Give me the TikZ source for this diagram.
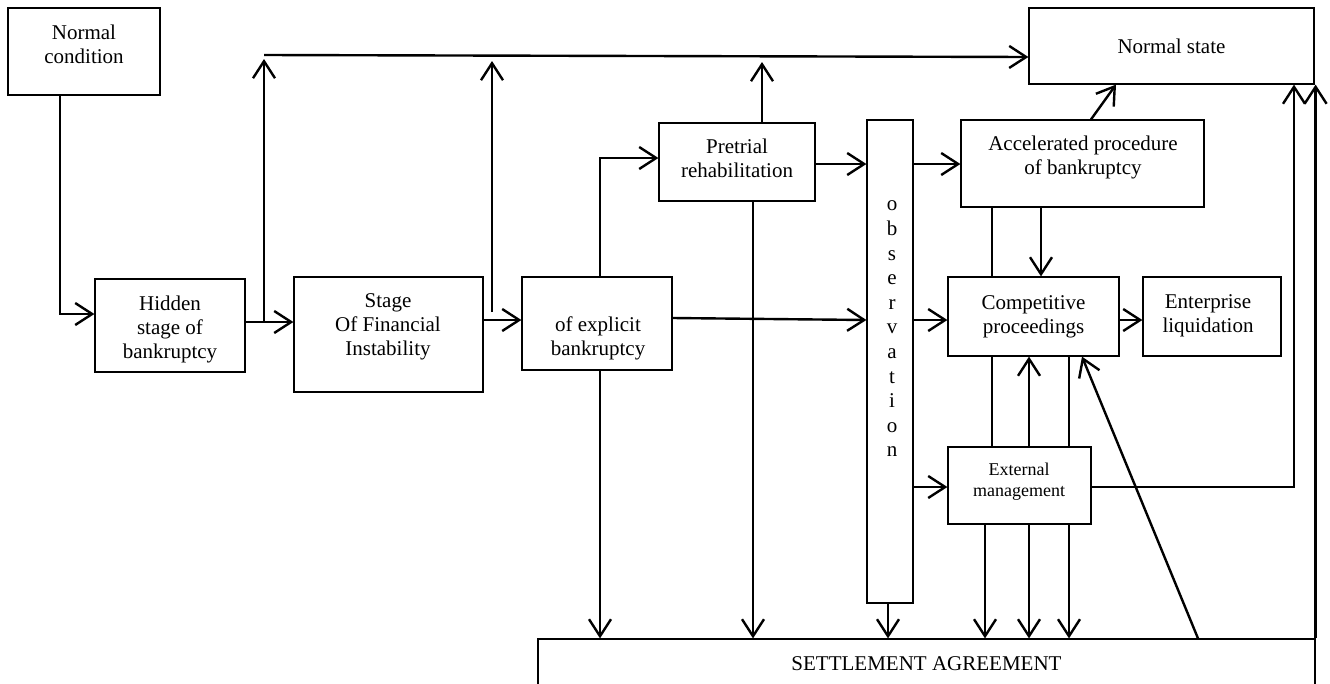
\documentclass[tikz,border=0pt]{standalone}
\usepackage{fontspec}
\setmainfont{Liberation Serif}
\usetikzlibrary{arrows.meta}
\begin{document}
\begin{tikzpicture}[x=1pt,y=-1pt,
  box/.style={draw, line width=1.2pt, inner sep=0pt, anchor=center, align=center, font=\fontsize{21}{24}\selectfont},
  txt/.style={align=center, inner sep=0pt, anchor=center, font=\fontsize{21}{24}\selectfont},
  con/.style={line width=2.4pt},
  arr/.style={line width=2.4pt, -{Straight Barb[length=17pt,width=22pt]}}]
\useasboundingbox (0,0) rectangle (1330,683);

% boxes
\node[box, minimum width=152pt, minimum height=87pt] (nc) at (84,51.5) {};
\node[txt] (nct) at (84,44) {Normal\\condition};
\node[box, minimum width=150pt, minimum height=93pt] (hid) at (170,325.5) {};
\node[txt] (hidt) at (170,329) {Hidden\\stage of\\bankruptcy};
\node[box, minimum width=189pt, minimum height=115pt] (sfi) at (388.5,334.5) {};
\node[txt] (sfit) at (388,327) {Stage\\Of Financial\\Instability};
\node[box, minimum width=150pt, minimum height=93pt] (exb) at (597,323.5) {};
\node[txt] (exbt) at (598,338) {of explicit\\bankruptcy};
\node[box, minimum width=156pt, minimum height=78pt] (pr) at (737,162) {};
\node[txt] (prt) at (737,158) {Pretrial\\rehabilitation};
\node[box, minimum width=46pt, minimum height=483pt] (ob) at (890,361.5) {};
\node[txt, font=\fontsize{21}{24.6}\selectfont] (obt) at (892,329) {o\\b\\s\\e\\r\\v\\a\\t\\i\\o\\n};
\node[box, minimum width=285pt, minimum height=76pt] (ns) at (1171.5,46) {Normal state};
\node[box, minimum width=243pt, minimum height=87pt] (ap) at (1082.5,163.5) {};
\node[txt] (apt) at (1083,157) {Accelerated procedure\\of bankruptcy};
\node[box, minimum width=171pt, minimum height=79pt] (cp) at (1033.5,316.5) {Competitive\\proceedings};
\node[box, minimum width=138pt, minimum height=79pt] (el) at (1212,316.5) {};
\node[txt] (elt) at (1208,316) {Enterprise\\liquidation};
\node[box, minimum width=143pt, minimum height=77pt] (em) at (1019.5,485.5) {};
\node[txt, font=\fontsize{18}{21}\selectfont] (emt) at (1019,482) {External\\management};
\node[box, minimum width=777pt, minimum height=49pt] (sa) at (926.5,663.5) {SETTLEMENT AGREEMENT};

% junction coordinates
\coordinate (tl) at (264,55);
\coordinate (j1) at (264,322);
\coordinate (j1t) at (264,59);
\coordinate (j2) at (492,312);
\coordinate (j2t) at (492,61);
\coordinate (j3t) at (762,62);
\coordinate (j4) at (600,158);

% connectors
\draw[arr] (nc.south -| 60,0) |- (hid.west |- 0,314);
\draw[arr] (hid.east |- 0,322) -- (sfi.west |- 0,322);
\draw[arr] (j1) -- (j1t);
\draw[arr] (tl) -- (ns.west |- 0,57);
\draw[arr] (sfi.east |- 0,320) -- (exb.west |- 0,320);
\draw[arr] (j2) -- (j2t);
\draw[arr] (pr.north -| 762,0) -- (j3t);
\draw[arr] (exb.north -| j4) -- (j4) -- (pr.west |- j4);
\draw[arr] (pr.east |- 0,164) -- (ob.west |- 0,164);
\draw[arr] (exb.east |- 0,318) -- (ob.west |- 0,320);
\draw[arr] (pr.south -| 753,0) -- (sa.north -| 753,0);
\draw[arr] (exb.south -| 600,0) -- (sa.north -| 600,0);
\draw[arr] (ob.south -| 888,0) -- (sa.north -| 888,0);
\draw[arr] (ob.east |- 0,164) -- (ap.west |- 0,164);
\draw[arr] (ob.east |- 0,320) -- (cp.west |- 0,320);
\draw[arr] (ob.east |- 0,487) -- (em.west |- 0,487);
\draw[arr] (ap.north -| 1091,0) -- (ns.south -| 1116,0);
\draw[arr] (ap.south -| 1041,0) -- (cp.north -| 1041,0);
\draw[con] (ap.south -| 992,0) -- (cp.north -| 992,0);
\draw[arr] (cp.east |- 0,320) -- (el.west |- 0,320);
\draw[con] (cp.south -| 992,0) -- (em.north -| 992,0);
\draw[arr] (em.north -| 1029,0) -- (cp.south -| 1029,0);
\draw[con] (cp.south -| 1069,0) -- (em.north -| 1069,0);
\draw[arr] (sa.north -| 1198,0) -- (cp.south -| 1082,0);
\draw[arr] (em.south -| 985,0) -- (sa.north -| 985,0);
\draw[arr] (em.south -| 1029,0) -- (sa.north -| 1029,0);
\draw[arr] (em.south -| 1069,0) -- (sa.north -| 1069,0);
\draw[arr] (em.east |- 0,487) -| (ns.south -| 1294,0);
\draw[arr] (sa.north east) -- (sa.north east |- ns.south);
\end{tikzpicture}
\end{document}
